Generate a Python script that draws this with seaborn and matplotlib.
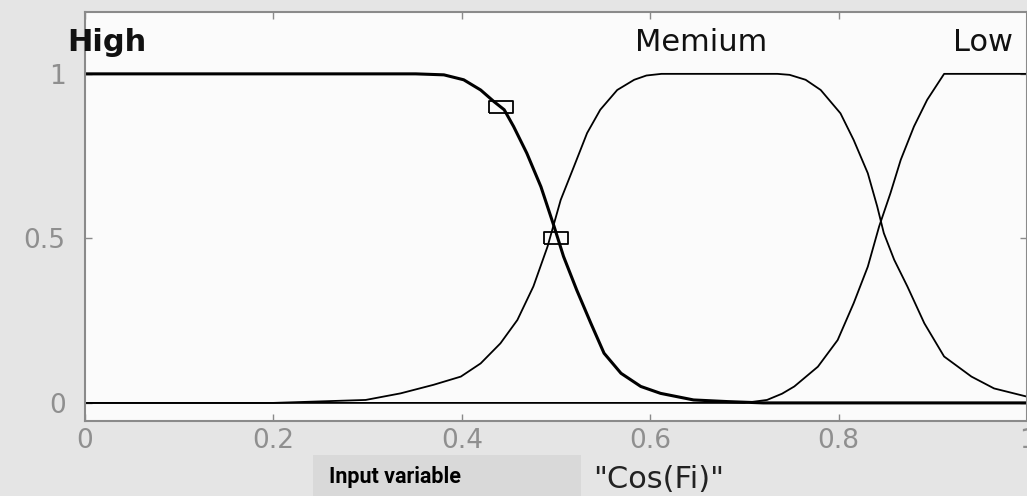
import matplotlib
matplotlib.use("Agg")
import matplotlib.pyplot as plt
from matplotlib.patches import Rectangle
import seaborn as sns
import pandas as pd

# ---- data ----
high_x = [0.0, 0.351, 0.381, 0.402, 0.420, 0.434, 0.445, 0.455, 0.469, 0.484, 0.498,
          0.508, 0.522, 0.537, 0.551, 0.569, 0.590, 0.611, 0.646, 0.682, 0.72, 1.0]
high_y = [1.0, 1.0, 0.997, 0.982, 0.951, 0.916, 0.891, 0.840, 0.759, 0.657, 0.536,
          0.445, 0.343, 0.242, 0.151, 0.090, 0.050, 0.029, 0.009, 0.004, 0.0, 0.0]

medium_x = [0.0, 0.2, 0.298, 0.335, 0.370, 0.399, 0.420, 0.441, 0.459, 0.476, 0.491,
            0.505, 0.519, 0.533, 0.547, 0.565, 0.583, 0.596, 0.612, 0.735, 0.748,
            0.765, 0.781, 0.802, 0.816, 0.831, 0.841, 0.848, 0.859, 0.873, 0.891,
            0.912, 0.941, 0.965, 1.0]
medium_y = [0.0, 0.0, 0.009, 0.029, 0.055, 0.080, 0.120, 0.181, 0.252, 0.354, 0.475,
            0.617, 0.718, 0.820, 0.891, 0.951, 0.982, 0.995, 1.0, 1.0, 0.997,
            0.982, 0.951, 0.880, 0.799, 0.698, 0.597, 0.516, 0.435, 0.354, 0.242,
            0.141, 0.080, 0.044, 0.019]

low_x = [0.0, 0.70, 0.724, 0.740, 0.753, 0.778, 0.799, 0.816, 0.831, 0.843, 0.855,
         0.866, 0.880, 0.894, 0.912, 1.0]
low_y = [0.0, 0.0, 0.009, 0.028, 0.050, 0.110, 0.191, 0.303, 0.414, 0.536, 0.637,
         0.739, 0.840, 0.921, 1.0, 1.0]

marker_x = [0.442, 0.50]
marker_y = [0.90, 0.50]

mf_names = ["High", "Memium", "Low"]
mf_label_x = [-0.019, 0.584, 0.921]
x_ticks = [0, 0.2, 0.4, 0.6, 0.8, 1]
x_tick_labels = ["0", "0.2", "0.4", "0.6", "0.8", "1"]
y_ticks = [0, 0.5, 1]
y_tick_labels = ["0", "0.5", "1"]
var_name = '"Cos(Fi)"'
box_label = "Input variable"

# ---- style ----
sns.set_theme(style="white")
plt.rcParams["font.family"] = ["DejaVu Sans"]

fig = plt.figure(figsize=(10.27, 4.96), dpi=100)
fig.patch.set_facecolor("#e5e5e5")
ax = fig.add_axes([85 / 1027, 75 / 496, 942 / 1027, 409 / 496])
ax.set_facecolor("#fbfbfb")

df_high = pd.DataFrame({"x": high_x, "y": high_y})
df_med = pd.DataFrame({"x": medium_x, "y": medium_y})
df_low = pd.DataFrame({"x": low_x, "y": low_y})

sns.lineplot(data=df_med, x="x", y="y", ax=ax, color="black", lw=1.3,
             sort=False, estimator=None)
sns.lineplot(data=df_low, x="x", y="y", ax=ax, color="black", lw=1.3,
             sort=False, estimator=None)
sns.lineplot(data=df_high, x="x", y="y", ax=ax, color="black", lw=2.2,
             sort=False, estimator=None)

rect_marker = [(-1, -0.55), (1, -0.55), (1, 0.55), (-1, 0.55), (-1, -0.55)]
ax.plot(marker_x, marker_y, ls="none", marker=rect_marker, markersize=17,
        markerfacecolor="none", markeredgecolor="black", markeredgewidth=1.3)

ax.set_xlim(0, 1.0)
ax.set_ylim(-0.055, 1.188)
ax.set_xticks(x_ticks)
ax.set_xticklabels(x_tick_labels)
ax.set_yticks(y_ticks)
ax.set_yticklabels(y_tick_labels)
ax.set_xlabel("")
ax.set_ylabel("")
ax.tick_params(axis="both", direction="in", length=5, width=1, color="#8a8a8a",
               labelcolor="#8f8f8f", labelsize=19, top=True, right=True,
               bottom=True, left=True)
ax.tick_params(axis="x", pad=5)
ax.tick_params(axis="y", pad=14)
for s in ax.spines.values():
    s.set_visible(True)
    s.set_color("#8a8a8a")
    s.set_linewidth(1.5)

for name, lx in zip(mf_names, mf_label_x):
    ax.text(lx, 1.07, name, fontsize=22, va="baseline", ha="left",
            fontweight="bold" if name == "High" else "normal",
            color="#111111", clip_on=False)

fig.patches.append(Rectangle((313 / 1027, 0), 268 / 1027, 41 / 496,
                             transform=fig.transFigure, facecolor="#d9d9d9",
                             edgecolor="none", zorder=0))
fig.text(329 / 1027, 13 / 496, box_label, fontsize=15.5, fontweight="bold",
         family=["Roboto", "DejaVu Sans"], color="black",
         va="baseline", ha="left")
fig.text(593 / 1027, 8 / 496, var_name, fontsize=22, color="#222222",
         va="baseline", ha="left")

fig.savefig("out.png", dpi=100, facecolor=fig.get_facecolor())
